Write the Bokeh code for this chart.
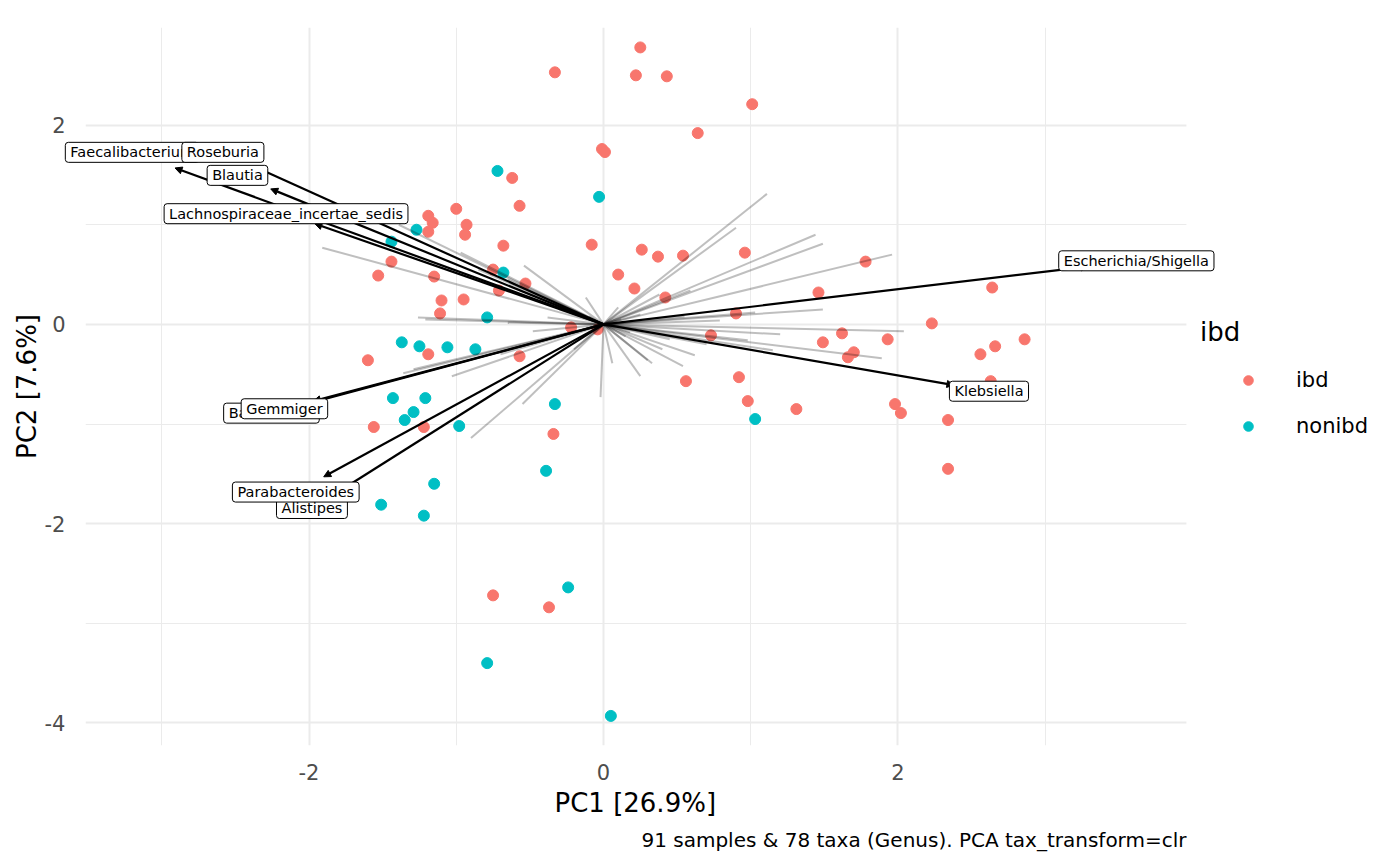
from bokeh.plotting import figure
from bokeh.models import (ColumnDataSource, Arrow, NormalHead, Legend, LegendItem,
                          FixedTicker, Title, BoxAnnotation)
from bokeh.embed import file_html
from bokeh.resources import INLINE
from bokeh.core.properties import value

# ---- sample scores (PC1, PC2) ----
ibd_pc1 = [0.25, -0.33, 0.22, 0.43, 1.01, 0.64, -0.01, 0.01, -0.62, -0.57,
           -1.00, -1.19, -1.16, -0.93, -1.19, -0.94, -0.68, -0.08, 0.26, 0.37,
           0.54, 0.96, -1.44, 1.78, -1.53, -1.15, 0.10, 0.21, -0.75, -0.53,
           -0.71, 0.42, -1.10, -0.95, -1.11, 1.46, 0.90, 2.64, 2.23, -0.22,
           -0.04, 0.73, 1.62, 1.49, 1.70, 1.66, 1.93, 2.86, 2.66, 2.56,
           2.63, -1.60, -1.19, -0.57, 0.56, 0.92, 0.98, 1.31, 1.98, 2.02,
           2.34, 2.34, -1.56, -1.22, -0.34, -0.75, -0.37]
ibd_pc2 = [2.78, 2.53, 2.50, 2.49, 2.21, 1.92, 1.76, 1.73, 1.47, 1.19,
           1.16, 1.09, 1.02, 1.00, 0.93, 0.90, 0.79, 0.80, 0.75, 0.68,
           0.69, 0.72, 0.63, 0.63, 0.49, 0.48, 0.50, 0.36, 0.55, 0.41,
           0.34, 0.27, 0.24, 0.25, 0.11, 0.32, 0.11, 0.37, 0.01, -0.03,
           -0.05, -0.11, -0.09, -0.18, -0.28, -0.33, -0.15, -0.15, -0.22, -0.30,
           -0.57, -0.36, -0.30, -0.32, -0.57, -0.53, -0.77, -0.85, -0.80, -0.89,
           -0.96, -1.45, -1.03, -1.03, -1.10, -2.72, -2.84]
nonibd_pc1 = [-0.72, -0.03, -1.27, -1.44, -0.68, -0.79, -1.37, -1.25, -1.06, -0.87,
              -1.43, -1.21, -1.29, -1.35, -0.98, -0.33, 1.03, -0.39, -1.15, -1.51,
              -1.22, -0.24, -0.79, 0.05]
nonibd_pc2 = [1.54, 1.28, 0.95, 0.83, 0.52, 0.07, -0.18, -0.22, -0.23, -0.25,
              -0.74, -0.74, -0.88, -0.96, -1.02, -0.80, -0.95, -1.47, -1.60, -1.81,
              -1.92, -2.64, -3.40, -3.93]

# ---- labelled taxa loadings (drawing order) ----
taxa_names = ["Alistipes", "Parabacteroides", "Bacteroides", "Gemmiger",
              "Faecalibacterium", "Roseburia", "Blautia",
              "Lachnospiraceae_incertae_sedis", "Escherichia/Shigella", "Klebsiella"]
taxa_pc1 = [-1.80, -1.90, -2.05, -1.97, -2.91, -2.35, -2.26, -1.96, 3.29, 2.38]
taxa_pc2 = [-1.68, -1.53, -0.81, -0.77, 1.57, 1.57, 1.36, 1.01, 0.58, -0.61]

# ---- other (unlabelled) taxa loadings ----
other_pc1 = [1.11, 0.90, 1.44, 1.49, 1.96, 1.49, 1.03, 0.79, 0.59, 0.38, 0.10, 0.25, 0.55,
             2.04, 1.20, 0.98, 1.89, 1.15, 0.62, 0.54, 0.33, 0.30, 0.25, 0.06, -0.02,
             0.45, 0.70, 0.40, 0.18, 0.15,
             -0.54, -0.97, -1.91, -1.39, -0.12, -1.26, -1.21, -0.38, -0.48, -0.65,
             -0.85, -0.30, -0.65, -0.10,
             -1.03, -0.55, -0.90, -1.36, -1.29, -0.70, -0.30, -0.20, 0.12]
other_pc2 = [1.31, 0.97, 0.90, 0.81, 0.70, 0.15, 0.12, 0.04, 0.34, 0.30, 0.17, 0.10, 0.08,
             -0.07, -0.10, -0.16, -0.34, -0.26, -0.31, -0.42, -0.39, -0.36, -0.52, -0.39, -0.73,
             -0.15, -0.20, -0.25, -0.08, -0.12,
             0.59, 0.72, 0.77, 1.00, 0.27, 0.07, 0.05, 0.07, -0.07, 0.45,
             0.55, 0.15, 0.02, 0.08,
             -0.52, -0.80, -1.14, -0.49, -0.45, -0.30, -0.12, -0.25, 0.05]

x_ticks = [-2, 0, 2]
y_ticks = [-4, -2, 0, 2]
x_title = "PC1 [26.9%]"
y_title = "PC2 [7.6%]"
legend_title = "ibd"
group_labels = ["ibd", "nonibd"]
caption = "91 samples & 78 taxa (Genus). PCA tax_transform=clr"
label_scale = 1.1

FONT = "DejaVu Sans"
RED = "#F8766D"
CYAN = "#00BFC4"

PANEL_X = (-3.518, 3.959)     # extent of the data panel
VIEW_X_END = 5.413            # drawing area continues to the right for the legend

p = figure(width=1400, height=866, x_range=(PANEL_X[0], VIEW_X_END), y_range=(-4.227, 2.98),
           output_backend="svg", toolbar_location=None,
           min_border_left=85, min_border_right=0, min_border_top=27, min_border_bottom=121)
p.outline_line_color = None
p.background_fill_color = "white"
p.border_fill_color = "white"

xt = FixedTicker(ticks=x_ticks, minor_ticks=[-3, -1, 1, 3])
yt = FixedTicker(ticks=y_ticks, minor_ticks=[-3, -1, 1, 3])
p.xaxis.ticker = xt
p.yaxis.ticker = yt
p.xgrid.ticker = xt
p.ygrid.ticker = yt
for g in (p.xgrid, p.ygrid):
    g.grid_line_color = "#EBEBEB"
    g.grid_line_width = 2
    g.minor_grid_line_color = "#EBEBEB"
    g.minor_grid_line_width = 1

# blank out the grid to the right of the data panel (legend area)
p.add_layout(BoxAnnotation(left=PANEL_X[1], fill_color="white", fill_alpha=1.0,
                           line_alpha=0, level="underlay"))

for ax, ticks in ((p.xaxis, x_ticks), (p.yaxis, y_ticks)):
    ax.axis_line_color = None
    ax.major_tick_line_color = None
    ax.minor_tick_line_color = None
    ax.major_label_overrides = {t: str(t) for t in ticks}
    ax.major_label_text_font = FONT
    ax.major_label_text_font_size = "21px"
    ax.major_label_text_color = "#4D4D4D"
p.yaxis.axis_label = y_title
p.yaxis.axis_label_text_font = FONT
p.yaxis.axis_label_text_font_size = "26px"
p.yaxis.axis_label_text_font_style = "normal"
p.yaxis.axis_label_text_color = "black"
p.xaxis.major_label_standoff = 12
p.yaxis.major_label_standoff = 14
p.yaxis.axis_label_standoff = 0

# points
r_ibd = p.scatter(ibd_pc1, ibd_pc2, size=11, fill_color=RED, line_color=RED)
r_non = p.scatter(nonibd_pc1, nonibd_pc2, size=11, fill_color=CYAN, line_color=CYAN)

# unlabelled loadings
p.segment(x0=[0] * len(other_pc1), y0=[0] * len(other_pc2), x1=other_pc1, y1=other_pc2,
          line_color="black", line_alpha=0.25, line_width=2)

# labelled loadings as arrows
asrc = ColumnDataSource(dict(x0=[0] * len(taxa_pc1), y0=[0] * len(taxa_pc2),
                             x1=taxa_pc1, y1=taxa_pc2))
p.add_layout(Arrow(end=NormalHead(size=7, line_color="black", fill_color="black", line_width=1),
                   x_start="x0", y_start="y0", x_end="x1", y_end="y1", source=asrc,
                   line_color="black", line_width=2.2))

for name, lx, ly in zip(taxa_names, taxa_pc1, taxa_pc2):
    p.text(x=[lx * label_scale], y=[ly * label_scale], text=[name],
           text_font=value(FONT), text_font_size="14.5px", text_color="black",
           text_align="center", text_baseline="middle",
           background_fill_color="white", border_line_color="black", border_line_width=1,
           padding=(5, 2), border_radius=3, level="overlay")

# legend
legend = Legend(items=[LegendItem(label=group_labels[0], renderers=[r_ibd]),
                       LegendItem(label=group_labels[1], renderers=[r_non])],
                title=legend_title, location=(1115, 307),
                title_text_font=FONT, title_text_font_size="26px", title_text_font_style="normal",
                title_text_color="black", title_standoff=21,
                label_text_font=FONT, label_text_font_size="21px", label_text_color="black",
                glyph_width=96, glyph_height=24, label_height=24, label_standoff=-5, spacing=22,
                padding=0, margin=0, border_line_color=None, background_fill_alpha=0)
p.add_layout(legend)

# x axis title (centred under the data panel) and caption
p.add_layout(Title(text=x_title, align="left", offset=469, text_font=FONT,
                   text_font_size="26px", text_font_style="normal", text_color="black",
                   standoff=6), "below")
p.add_layout(Title(text=caption, align="right", offset=214, text_font=FONT,
                   text_font_size="20px", text_font_style="normal", text_color="black",
                   standoff=10), "below")

open("out.html", "w").write(file_html(p, INLINE))
